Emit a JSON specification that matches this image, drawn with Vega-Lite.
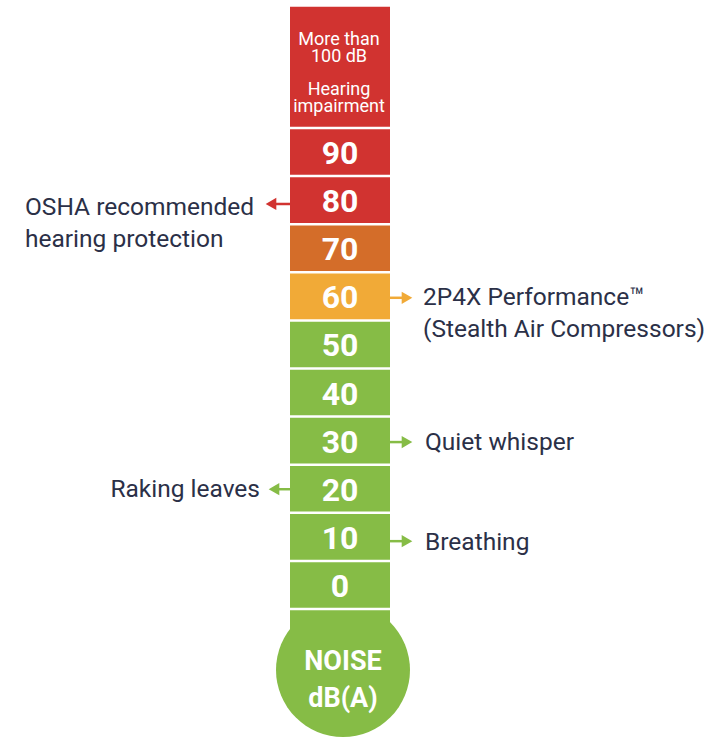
{
  "$schema": "https://vega.github.io/schema/vega-lite/v6.json",
  "width": 722,
  "height": 739,
  "autosize": {"type": "fit", "contains": "padding"},
  "padding": 0,
  "background": "white",
  "config": {"view": {"stroke": null}},
  "datasets": {
    "segments": [
      {"x": 290, "x2": 390, "y": 100, "y2": 125.2, "color": "#d13330"},
      {"x": 290, "x2": 390, "y": 90, "y2": 100, "color": "#d13330"},
      {"x": 290, "x2": 390, "y": 80, "y2": 90, "color": "#d13330"},
      {"x": 290, "x2": 390, "y": 70, "y2": 80, "color": "#d46d29"},
      {"x": 290, "x2": 390, "y": 60, "y2": 70, "color": "#f1aa37"},
      {"x": 290, "x2": 390, "y": 50, "y2": 60, "color": "#86bc46"},
      {"x": 290, "x2": 390, "y": 40, "y2": 50, "color": "#86bc46"},
      {"x": 290, "x2": 390, "y": 30, "y2": 40, "color": "#86bc46"},
      {"x": 290, "x2": 390, "y": 20, "y2": 30, "color": "#86bc46"},
      {"x": 290, "x2": 390, "y": 10, "y2": 20, "color": "#86bc46"},
      {"x": 290, "x2": 390, "y": 0, "y2": 10, "color": "#86bc46"},
      {"x": 290, "x2": 390, "y": -12.68, "y2": 0, "color": "#86bc46"}
    ],
    "bulb": [{"x": 343, "y": -12.68}],
    "separators": [
      {"x": 290, "x2": 390, "y": 0},
      {"x": 290, "x2": 390, "y": 10},
      {"x": 290, "x2": 390, "y": 20},
      {"x": 290, "x2": 390, "y": 30},
      {"x": 290, "x2": 390, "y": 40},
      {"x": 290, "x2": 390, "y": 50},
      {"x": 290, "x2": 390, "y": 60},
      {"x": 290, "x2": 390, "y": 70},
      {"x": 290, "x2": 390, "y": 80},
      {"x": 290, "x2": 390, "y": 90},
      {"x": 290, "x2": 390, "y": 100}
    ],
    "arrows": [
      {"x": 270, "x2": 290, "y": 84.2, "hx": 271, "shape": "triangle-left", "color": "#d13330"},
      {"x": 390, "x2": 408, "y": 64.7, "hx": 407, "shape": "triangle-right", "color": "#f1aa37"},
      {"x": 390, "x2": 408, "y": 34.7, "hx": 407, "shape": "triangle-right", "color": "#86bc46"},
      {"x": 273, "x2": 290, "y": 24.9, "hx": 274, "shape": "triangle-left", "color": "#86bc46"},
      {"x": 390, "x2": 408, "y": 14.1, "hx": 407, "shape": "triangle-right", "color": "#86bc46"}
    ],
    "numbers": [
      {"x": 340, "y": 95, "label": "90"},
      {"x": 340, "y": 85, "label": "80"},
      {"x": 340, "y": 75, "label": "70"},
      {"x": 340, "y": 65, "label": "60"},
      {"x": 340, "y": 55, "label": "50"},
      {"x": 340, "y": 45, "label": "40"},
      {"x": 340, "y": 35, "label": "30"},
      {"x": 340, "y": 25, "label": "20"},
      {"x": 340, "y": 15, "label": "10"},
      {"x": 340, "y": 5, "label": "0"}
    ],
    "toplines": [
      {"x": 339, "y": 117.26, "label": "More than\n100 dB"},
      {"x": 339, "y": 106.86, "label": "Hearing\nimpairment"}
    ],
    "bulbtext": [
      {"x": 343, "y": -12.68, "label": "NOISE"},
      {"x": 343, "y": -20.37, "label": "dB(A)"}
    ],
    "leftlabels": [
      {"x": 25, "y": 81.91, "label": "OSHA recommended"},
      {"x": 25, "y": 75.26, "label": "hearing protection"}
    ],
    "rightlabels": [
      {"x": 423, "y": 63.2, "label": "2P4X Performance™"},
      {"x": 423, "y": 56.55, "label": "(Stealth Air Compressors)"},
      {"x": 425, "y": 33.06, "label": "Quiet whisper"},
      {"x": 425, "y": 12.27, "label": "Breathing"}
    ],
    "rakelabel": [
      {"x": 260, "y": 23.28, "label": "Raking leaves"}
    ]
  },
  "layer": [
    {
      "data": {"name": "bulb"},
      "mark": {"type": "point", "shape": "circle", "filled": true, "opacity": 1, "size": 17956, "color": "#86bc46", "strokeWidth": 0},
      "encoding": {
        "x": {"field": "x", "type": "quantitative", "scale": {"domain": [0, 722], "nice": false, "zero": false}, "axis": null},
        "y": {"field": "y", "type": "quantitative", "scale": {"domain": [-27.03, 126.61], "nice": false, "zero": false}, "axis": null}
      }
    },
    {
      "data": {"name": "segments"},
      "mark": {"type": "rect"},
      "encoding": {
        "x": {"field": "x", "type": "quantitative", "scale": {"domain": [0, 722], "nice": false, "zero": false}, "axis": null},
        "x2": {"field": "x2"},
        "y": {"field": "y", "type": "quantitative", "scale": {"domain": [-27.03, 126.61], "nice": false, "zero": false}, "axis": null},
        "y2": {"field": "y2"},
        "color": {"field": "color", "type": "nominal", "scale": null, "legend": null}
      }
    },
    {
      "data": {"name": "separators"},
      "mark": {"type": "rule", "color": "white", "strokeWidth": 2.5},
      "encoding": {
        "x": {"field": "x", "type": "quantitative", "axis": null},
        "x2": {"field": "x2"},
        "y": {"field": "y", "type": "quantitative", "axis": null}
      }
    },
    {
      "data": {"name": "arrows"},
      "mark": {"type": "rule", "strokeWidth": 2.5},
      "encoding": {
        "x": {"field": "x", "type": "quantitative", "axis": null},
        "x2": {"field": "x2"},
        "y": {"field": "y", "type": "quantitative", "axis": null},
        "color": {"field": "color", "type": "nominal", "scale": null, "legend": null}
      }
    },
    {
      "data": {"name": "arrows"},
      "mark": {"type": "point", "filled": true, "opacity": 1, "size": 150, "strokeWidth": 0},
      "encoding": {
        "x": {"field": "hx", "type": "quantitative", "axis": null},
        "y": {"field": "y", "type": "quantitative", "axis": null},
        "shape": {"field": "shape", "type": "nominal", "scale": null, "legend": null},
        "color": {"field": "color", "type": "nominal", "scale": null, "legend": null}
      }
    },
    {
      "data": {"name": "numbers"},
      "mark": {"type": "text", "font": "Roboto", "fontWeight": "bold", "fontSize": 32, "color": "white", "align": "center", "baseline": "alphabetic", "dy": 12},
      "encoding": {
        "x": {"field": "x", "type": "quantitative", "axis": null},
        "y": {"field": "y", "type": "quantitative", "axis": null},
        "text": {"field": "label"}
      }
    },
    {
      "data": {"name": "toplines"},
      "mark": {"type": "text", "font": "Roboto", "fontSize": 18, "lineBreak": "\n", "lineHeight": 17.5, "color": "white", "align": "center", "baseline": "alphabetic"},
      "encoding": {
        "x": {"field": "x", "type": "quantitative", "axis": null},
        "y": {"field": "y", "type": "quantitative", "axis": null},
        "text": {"field": "label"}
      }
    },
    {
      "data": {"name": "bulbtext"},
      "mark": {"type": "text", "font": "Roboto", "fontWeight": "bold", "fontSize": 27, "color": "white", "align": "center", "baseline": "alphabetic"},
      "encoding": {
        "x": {"field": "x", "type": "quantitative", "axis": null},
        "y": {"field": "y", "type": "quantitative", "axis": null},
        "text": {"field": "label"}
      }
    },
    {
      "data": {"name": "leftlabels"},
      "mark": {"type": "text", "font": "Roboto", "fontSize": 24.5, "color": "#2b3047", "align": "left", "baseline": "alphabetic"},
      "encoding": {
        "x": {"field": "x", "type": "quantitative", "axis": null},
        "y": {"field": "y", "type": "quantitative", "axis": null},
        "text": {"field": "label"}
      }
    },
    {
      "data": {"name": "rightlabels"},
      "mark": {"type": "text", "font": "Roboto", "fontSize": 24.5, "color": "#2b3047", "align": "left", "baseline": "alphabetic"},
      "encoding": {
        "x": {"field": "x", "type": "quantitative", "axis": null},
        "y": {"field": "y", "type": "quantitative", "axis": null},
        "text": {"field": "label"}
      }
    },
    {
      "data": {"name": "rakelabel"},
      "mark": {"type": "text", "font": "Roboto", "fontSize": 24.5, "color": "#2b3047", "align": "right", "baseline": "alphabetic"},
      "encoding": {
        "x": {"field": "x", "type": "quantitative", "axis": null},
        "y": {"field": "y", "type": "quantitative", "axis": null},
        "text": {"field": "label"}
      }
    }
  ]
}
